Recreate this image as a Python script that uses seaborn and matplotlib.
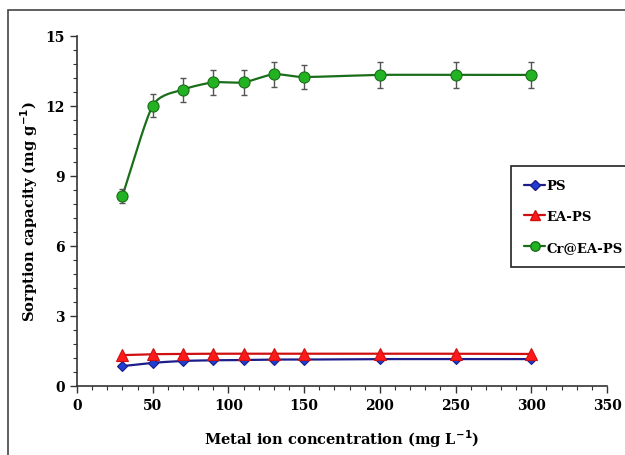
import numpy as np
import pandas as pd
import matplotlib
matplotlib.use("Agg")
import matplotlib.pyplot as plt
from matplotlib.ticker import MultipleLocator
from matplotlib.patches import Rectangle
import seaborn as sns

conc = [30, 50, 70, 90, 110, 130, 150, 200, 250, 300]
ps = [0.84, 0.98, 1.06, 1.09, 1.10, 1.12, 1.12, 1.14, 1.14, 1.14]
ea_ps = [1.31, 1.35, 1.36, 1.37, 1.37, 1.37, 1.37, 1.37, 1.37, 1.36]
cr_ea_ps = [8.14, 12.0, 12.69, 13.0, 13.0, 13.35, 13.23, 13.32, 13.32, 13.32]
cr_err = [0.3, 0.49, 0.51, 0.52, 0.52, 0.54, 0.53, 0.55, 0.55, 0.55]
series_names = ["PS", "EA-PS", "Cr@EA-PS"]

sns.set_theme(style="ticks")
plt.rcParams['font.family'] = ['DejaVu Serif']
plt.rcParams['text.color'] = 'black'
plt.rcParams['axes.labelcolor'] = 'black'
plt.rcParams['xtick.labelcolor'] = 'black'
plt.rcParams['ytick.labelcolor'] = 'black'


def smooth(x, y, n=20, k=0.7):
    # cardinal-spline rendering of the connecting line (Excel-style smoothing)
    x = np.asarray(x, float); y = np.asarray(y, float)
    px = np.concatenate([[2 * x[0] - x[1]], x, [2 * x[-1] - x[-2]]])
    py = np.concatenate([[2 * y[0] - y[1]], y, [2 * y[-1] - y[-2]]])
    xs, ys = [], []
    t = np.linspace(0, 1, n, endpoint=False)
    h00 = 2 * t ** 3 - 3 * t ** 2 + 1
    h10 = t ** 3 - 2 * t ** 2 + t
    h01 = -2 * t ** 3 + 3 * t ** 2
    h11 = t ** 3 - t ** 2
    for i in range(1, len(px) - 2):
        for arr, out in ((px, xs), (py, ys)):
            p0, p1, p2, p3 = arr[i - 1], arr[i], arr[i + 1], arr[i + 2]
            m1 = k * (p2 - p0) / 2
            m2 = k * (p3 - p1) / 2
            out.extend(h00 * p1 + h10 * m1 + h01 * p2 + h11 * m2)
    xs.append(x[-1]); ys.append(y[-1])
    return np.array(xs), np.array(ys)


fig = plt.figure(figsize=(6.25, 4.56), dpi=100)
ax = fig.add_axes([77 / 625, 1 - 386.7 / 456, 530 / 625, 350 / 456])

styles = [
    (ps, "#1c1c8a", "D", "#1f3fd0", 5.5),
    (ea_ps, "#d01010", "^", "#ff1a1a", 8),
    (cr_ea_ps, "#1a6e1a", "o", "#22b222", 8),
]

for name, (vals, lc, mk, mc, ms) in zip(series_names, styles):
    sx, sy = smooth(conc, vals)
    sns.lineplot(x=sx, y=sy, ax=ax, color=lc, linewidth=1.6, sort=False, legend=False)
    if name == "Cr@EA-PS":
        ax.errorbar(conc, vals, yerr=cr_err, fmt="none", ecolor="#555555",
                    elinewidth=1.0, capsize=2.5, capthick=1.0, zorder=3)
    ax.plot(conc, vals, linestyle="none", marker=mk, markersize=ms,
            markerfacecolor=mc, markeredgecolor=lc, markeredgewidth=0.8, zorder=4)
    ax.plot([], [], color=lc, linewidth=1.6, marker=mk, markersize=ms * 0.85,
            markerfacecolor=mc, markeredgecolor=lc, label=name)

ax.set_xlim(0, 350)
ax.set_ylim(0, 15)
ax.xaxis.set_major_locator(MultipleLocator(50))
ax.xaxis.set_minor_locator(MultipleLocator(10))
ax.yaxis.set_major_locator(MultipleLocator(3))
ax.yaxis.set_minor_locator(MultipleLocator(0.6))
ax.tick_params(which="major", direction="out", length=5, width=1, color="#333333",
               labelsize=10, pad=4, labelcolor="black")
ax.tick_params(which="minor", direction="out", length=3, width=0.8, color="#333333")
for lab in ax.get_xticklabels() + ax.get_yticklabels():
    lab.set_fontweight("bold")
for side in ("top", "right"):
    ax.spines[side].set_visible(False)
for side in ("left", "bottom"):
    ax.spines[side].set_color("#333333")
    ax.spines[side].set_linewidth(1.2)
ax.set_facecolor("white")

ax.set_xlabel("Metal ion concentration (mg L$^{\\mathbf{-1}}$)", fontsize=10.5,
              fontweight="bold", labelpad=11, color="black")
ax.set_ylabel("Sorption capacity (mg g$^{\\mathbf{-1}}$)", fontsize=10.5,
              fontweight="bold", labelpad=4, color="black")

leg = ax.legend(loc="upper left", bbox_to_anchor=((511 - 77) / 530, (386.7 - 167) / 350),
                frameon=True, fancybox=False, edgecolor="#222222", framealpha=1,
                prop={"weight": "bold", "size": 9.5}, handlelength=1.6, handletextpad=0.1,
                labelspacing=1.35, borderpad=1.0, borderaxespad=0)
leg.get_frame().set_linewidth(1.2)
leg.set_clip_on(False)

fig.patches.append(Rectangle((8 / 625, -0.2), 1.2, 1.2 - 11 / 456, transform=fig.transFigure,
                             fill=False, edgecolor="#444444", linewidth=1.2))

fig.savefig("out.png", dpi=100, facecolor="white")
